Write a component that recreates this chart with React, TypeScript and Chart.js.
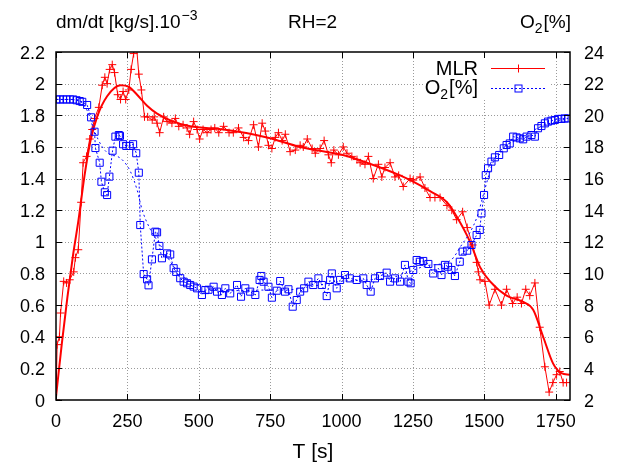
import React, { useEffect, useRef } from "react";
import { Chart, registerables } from "chart.js";

Chart.register(...registerables);

// ---------- data ----------
const mlrT = [0, 4, 12, 16, 27, 37, 48, 62, 68, 78, 88, 95, 107, 118, 127, 135, 150, 162, 171, 179, 188, 197, 205, 216, 226, 235, 244, 255, 263, 272, 280, 290, 299, 310, 321, 337, 344, 354, 363, 377, 389, 406, 418, 430, 445, 459, 468, 482, 494, 503, 515, 529, 543, 556, 570, 587, 606, 621, 639, 657, 674, 692, 709, 722, 733, 744, 756, 768, 779, 792, 803, 820, 838, 855, 866, 880, 897, 908, 925, 939, 954, 964, 973, 989, 1006, 1019, 1036, 1054, 1065, 1082, 1094, 1111, 1129, 1141, 1152, 1170, 1187, 1200, 1216, 1240, 1251, 1275, 1292, 1310, 1327, 1345, 1369, 1386, 1403, 1424, 1440, 1459, 1473, 1479, 1485, 1502, 1517, 1537, 1560, 1578, 1599, 1615, 1630, 1645, 1659, 1677, 1694, 1712, 1727, 1740, 1753, 1764, 1776, 1788];
const mlrV = [0.0, 0.35, 0.40, 0.55, 0.75, 0.74, 0.76, 0.81, 0.90, 0.95, 1.25, 1.50, 1.54, 1.65, 1.71, 1.78, 1.85, 1.99, 2.04, 2.00, 2.09, 2.12, 2.07, 1.93, 1.90, 1.95, 1.90, 1.96, 2.09, 2.19, 2.28, 2.06, 1.96, 1.79, 1.79, 1.77, 1.79, 1.75, 1.69, 1.79, 1.76, 1.75, 1.78, 1.73, 1.74, 1.72, 1.68, 1.76, 1.71, 1.65, 1.71, 1.69, 1.71, 1.72, 1.69, 1.73, 1.69, 1.69, 1.72, 1.66, 1.64, 1.74, 1.60, 1.75, 1.70, 1.61, 1.59, 1.66, 1.69, 1.64, 1.68, 1.57, 1.58, 1.61, 1.60, 1.65, 1.59, 1.56, 1.59, 1.64, 1.55, 1.50, 1.58, 1.55, 1.60, 1.56, 1.54, 1.52, 1.50, 1.49, 1.54, 1.40, 1.49, 1.41, 1.47, 1.50, 1.41, 1.42, 1.35, 1.40, 1.39, 1.41, 1.34, 1.28, 1.28, 1.28, 1.23, 1.20, 1.14, 1.19, 1.09, 0.98, 0.87, 0.81, 0.76, 0.75, 0.60, 0.70, 0.60, 0.70, 0.61, 0.65, 0.61, 0.70, 0.66, 0.74, 0.46, 0.21, 0.05, 0.11, 0.16, 0.18, 0.11, 0.11];

const mlrFitT = [0, 20, 40, 60, 79, 100, 121, 144, 179, 226, 255, 284, 319, 354, 411, 470, 587, 739, 855, 1001, 1089, 1205, 1251, 1310, 1369, 1403, 1450, 1485, 1520, 1578, 1636, 1671, 1706, 1741, 1770, 1799];
const mlrFitV = [0.02, 0.35, 0.65, 0.92, 1.14, 1.42, 1.64, 1.79, 1.92, 1.99, 1.98, 1.93, 1.86, 1.81, 1.76, 1.73, 1.71, 1.66, 1.60, 1.55, 1.50, 1.42, 1.38, 1.32, 1.25, 1.16, 1.00, 0.84, 0.75, 0.66, 0.62, 0.57, 0.40, 0.23, 0.17, 0.16];

const o2T = [2, 14, 25, 37, 49, 60, 72, 83, 92, 109, 123, 135, 138, 153, 159, 171, 179, 187, 198, 208, 220, 224, 235, 246, 258, 270, 281, 290, 295, 307, 319, 324, 336, 348, 354, 362, 371, 389, 400, 412, 421, 435, 447, 459, 470, 482, 494, 511, 523, 534, 552, 564, 581, 593, 610, 634, 648, 663, 680, 698, 713, 719, 727, 744, 756, 773, 785, 802, 814, 829, 843, 855, 869, 884, 901, 919, 931, 948, 960, 966, 983, 995, 1012, 1029, 1053, 1076, 1088, 1102, 1117, 1135, 1158, 1170, 1187, 1205, 1222, 1234, 1242, 1251, 1263, 1274, 1286, 1304, 1321, 1339, 1350, 1362, 1373, 1385, 1397, 1414, 1424, 1440, 1455, 1473, 1484, 1490, 1499, 1505, 1513, 1525, 1537, 1552, 1568, 1578, 1589, 1601, 1613, 1624, 1636, 1648, 1665, 1677, 1688, 1700, 1712, 1723, 1735, 1747, 1759, 1770, 1781, 1793];
const o2V = [21.0, 21.0, 21.0, 21.0, 21.0, 21.0, 20.95, 20.9, 20.85, 20.65, 19.87, 18.96, 17.93, 17.0, 15.8, 15.13, 14.96, 16.12, 17.76, 18.65, 18.75, 18.7, 18.17, 18.06, 18.06, 18.17, 17.6, 16.37, 13.06, 9.96, 9.63, 9.25, 10.89, 12.64, 12.6, 11.74, 10.96, 11.27, 11.2, 10.33, 10.1, 9.7, 9.48, 9.38, 9.27, 9.17, 9.06, 8.64, 8.95, 8.97, 9.16, 8.85, 8.64, 9.06, 8.74, 9.27, 8.53, 9.06, 8.85, 8.64, 9.59, 9.84, 9.48, 9.16, 8.47, 8.91, 9.52, 8.85, 9.0, 7.9, 8.32, 8.85, 9.06, 9.48, 9.27, 9.69, 9.27, 8.57, 9.59, 10.0, 9.06, 9.59, 9.9, 9.69, 9.59, 9.69, 9.27, 8.85, 9.69, 9.84, 10.05, 9.48, 9.69, 9.48, 10.54, 9.48, 9.38, 10.22, 10.85, 10.74, 10.79, 10.6, 10.0, 10.33, 9.9, 10.54, 10.43, 10.22, 9.84, 10.74, 11.38, 11.44, 11.8, 12.43, 12.75, 13.8, 14.96, 16.22, 16.65, 17.07, 17.34, 17.49, 17.91, 18.12, 18.22, 18.65, 18.6, 18.54, 18.48, 18.65, 18.75, 18.65, 19.18, 19.32, 19.49, 19.6, 19.66, 19.7, 19.77, 19.77, 19.8, 19.8];

const o2FitT = [0, 70, 109, 133, 162, 191, 215, 238, 261, 284, 302, 330, 365, 410, 460, 530, 600, 700, 800, 900, 1000, 1100, 1200, 1250, 1300, 1380, 1424, 1450, 1475, 1500, 1530, 1570, 1620, 1700, 1793];
const o2FitV = [21.0, 21.0, 20.3, 19.07, 18.0, 17.5, 17.4, 17.07, 16.43, 15.28, 14.0, 12.8, 11.8, 10.5, 9.6, 9.1, 8.9, 8.95, 8.95, 9.2, 9.5, 9.6, 9.85, 10.2, 10.5, 10.8, 11.9, 12.6, 13.6, 15.2, 17.0, 18.0, 18.5, 19.3, 19.8];

const xTicks = [0, 250, 500, 750, 1000, 1250, 1500, 1750];
const yTicks = [0, 0.2, 0.4, 0.6, 0.8, 1, 1.2, 1.4, 1.6, 1.8, 2, 2.2];
const y2Ticks = [2, 4, 6, 8, 10, 12, 14, 16, 18, 20, 22, 24];
const yTickLabels = ["0", "0.2", "0.4", "0.6", "0.8", "1", "1.2", "1.4", "1.6", "1.8", "2", "2.2"];

const RED = "#ff0000";
const BLUE = "#0000ff";
const FONT = "'Liberation Sans', Arial, Helvetica, sans-serif";

function pts(t: number[], v: number[]) {
  return t.map((x, i) => ({ x, y: v[i] }));
}

const gnuplotPlugin = {
  id: "gnuplotLook",
  beforeDatasetsDraw(chart: any) {
    const { ctx, chartArea: a, scales } = chart;
    ctx.save();
    ctx.strokeStyle = "#9a9a9a";
    ctx.lineWidth = 1;
    ctx.setLineDash([1, 2]);
    for (const t of xTicks) {
      if (t === 0) continue;
      const px = Math.round(scales.x.getPixelForValue(t)) + 0.5;
      ctx.beginPath();
      ctx.moveTo(px, a.top);
      ctx.lineTo(px, a.bottom);
      ctx.stroke();
    }
    for (const t of yTicks) {
      if (t === 0 || t === 2.2) continue;
      const py = Math.round(scales.y.getPixelForValue(t)) + 0.5;
      ctx.beginPath();
      ctx.moveTo(a.left, py);
      ctx.lineTo(a.right, py);
      ctx.stroke();
    }
    ctx.restore();
  },
  afterDatasetsDraw(chart: any) {
    const { ctx, chartArea: a, scales } = chart;
    ctx.save();
    // legend box (opaque)
    ctx.fillStyle = "#ffffff";
    ctx.fillRect(423, a.top + 1, 126, 45);

    // border
    ctx.setLineDash([]);
    ctx.strokeStyle = "#000";
    ctx.lineWidth = 1.5;
    ctx.strokeRect(a.left, a.top, a.right - a.left, a.bottom - a.top);

    // inward ticks
    ctx.lineWidth = 1;
    const tl = 6;
    for (const t of xTicks) {
      const px = Math.round(scales.x.getPixelForValue(t)) + 0.5;
      ctx.beginPath();
      ctx.moveTo(px, a.bottom);
      ctx.lineTo(px, a.bottom - tl);
      ctx.moveTo(px, a.top);
      ctx.lineTo(px, a.top + tl);
      ctx.stroke();
    }
    for (const t of yTicks) {
      const py = Math.round(scales.y.getPixelForValue(t)) + 0.5;
      ctx.beginPath();
      ctx.moveTo(a.left, py);
      ctx.lineTo(a.left + tl, py);
      ctx.stroke();
    }
    for (const t of y2Ticks) {
      const py = Math.round(scales.y2.getPixelForValue(t)) + 0.5;
      ctx.beginPath();
      ctx.moveTo(a.right, py);
      ctx.lineTo(a.right - tl, py);
      ctx.stroke();
    }

    // tick labels
    ctx.fillStyle = "#000";
    ctx.font = `18px ${FONT}`;
    ctx.textBaseline = "alphabetic";
    ctx.textAlign = "center";
    for (const t of xTicks) {
      ctx.fillText(String(t), scales.x.getPixelForValue(t), a.bottom + 27);
    }
    ctx.textAlign = "right";
    yTicks.forEach((t, i) => {
      ctx.fillText(yTickLabels[i], a.left - 11, scales.y.getPixelForValue(t) + 6.5);
    });
    ctx.textAlign = "left";
    for (const t of y2Ticks) {
      ctx.fillText(String(t), a.right + 14, scales.y2.getPixelForValue(t) + 6.5);
    }

    // axis title
    ctx.font = `21px ${FONT}`;
    ctx.textAlign = "center";
    ctx.fillText("T [s]", (a.left + a.right) / 2, 458);

    // top labels
    ctx.font = `19px ${FONT}`;
    ctx.textAlign = "left";
    const base = 28;
    const s1 = "dm/dt [kg/s].10";
    ctx.fillText(s1, 56, base);
    const w1 = ctx.measureText(s1).width;
    ctx.font = `14px ${FONT}`;
    ctx.fillText("\u22123", 56 + w1 + 1, base - 8);
    ctx.font = `19px ${FONT}`;
    ctx.fillText("RH=2", 288, base);

    const drawO2 = (rightX: number, baseline: number, size: number) => {
      ctx.font = `${size}px ${FONT}`;
      const wO = ctx.measureText("O").width;
      const wB = ctx.measureText("[%]").width;
      ctx.font = `${Math.round(size * 0.72)}px ${FONT}`;
      const w2 = ctx.measureText("2").width;
      const start = rightX - (wO + w2 + wB + 1);
      ctx.font = `${size}px ${FONT}`;
      ctx.textAlign = "left";
      ctx.fillText("O", start, baseline);
      ctx.font = `${Math.round(size * 0.72)}px ${FONT}`;
      ctx.fillText("2", start + wO, baseline + size * 0.25);
      ctx.font = `${size}px ${FONT}`;
      ctx.fillText("[%]", start + wO + w2 + 1, baseline);
    };
    drawO2(571, base, 19);

    // legend
    ctx.font = `20px ${FONT}`;
    ctx.textAlign = "right";
    ctx.fillText("MLR", 478, 75);
    drawO2(478, 94, 20);

    ctx.lineWidth = 1;
    ctx.strokeStyle = RED;
    ctx.beginPath();
    ctx.moveTo(491, 68.5);
    ctx.lineTo(545, 68.5);
    ctx.moveTo(518.5, 64.5);
    ctx.lineTo(518.5, 72.5);
    ctx.stroke();

    ctx.strokeStyle = BLUE;
    ctx.setLineDash([2, 2]);
    ctx.beginPath();
    ctx.moveTo(491, 88.5);
    ctx.lineTo(545, 88.5);
    ctx.stroke();
    ctx.setLineDash([]);
    ctx.strokeRect(515, 85, 7, 7);
    ctx.restore();
  },
};

export default function App() {
  const ref = useRef<HTMLCanvasElement | null>(null);
  useEffect(() => {
    if (!ref.current) return;
    const chart = new Chart(ref.current, {
      type: "line",
      data: {
        datasets: [
          {
            label: "MLR",
            data: pts(mlrT, mlrV),
            yAxisID: "y",
            borderColor: RED,
            borderWidth: 1,
            pointStyle: "cross",
            pointRadius: 4,
            pointBorderColor: RED,
            pointBorderWidth: 1,
            pointBackgroundColor: RED,
            tension: 0,
            order: 4,
          },
          {
            label: "MLR fit",
            data: pts(mlrFitT, mlrFitV),
            yAxisID: "y",
            borderColor: RED,
            borderWidth: 2,
            pointRadius: 0,
            cubicInterpolationMode: "monotone",
            order: 3,
          },
          {
            label: "O2",
            data: pts(o2T, o2V),
            yAxisID: "y2",
            borderColor: BLUE,
            borderWidth: 1,
            borderDash: [2, 2],
            pointStyle: "rect",
            pointRadius: 5,
            pointBorderColor: BLUE,
            pointBorderWidth: 1,
            pointBackgroundColor: "rgba(0,0,0,0)",
            tension: 0,
            order: 2,
          },
          {
            label: "O2 fit",
            data: pts(o2FitT, o2FitV),
            yAxisID: "y2",
            borderColor: BLUE,
            borderWidth: 1,
            borderDash: [2, 3],
            pointRadius: 0,
            cubicInterpolationMode: "monotone",
            order: 1,
          },
        ],
      },
      options: {
        animation: false,
        responsive: false,
        devicePixelRatio: 1,
        parsing: true,
        layout: { padding: { top: 52, left: 0, right: 0, bottom: 0 } },
        plugins: { legend: { display: false }, tooltip: { enabled: false } },
        scales: {
          x: {
            type: "linear",
            min: 0,
            max: 1800,
            grid: { display: false },
            border: { display: false },
            ticks: { display: false },
            afterFit: (s: any) => {
              s.height = 70;
            },
          },
          y: {
            type: "linear",
            position: "left",
            min: 0,
            max: 2.2,
            grid: { display: false },
            border: { display: false },
            ticks: { display: false },
            afterFit: (s: any) => {
              s.width = 56;
            },
          },
          y2: {
            type: "linear",
            position: "right",
            min: 2,
            max: 24,
            grid: { display: false },
            border: { display: false },
            ticks: { display: false },
            afterFit: (s: any) => {
              s.width = 54;
            },
          },
        },
      } as any,
      plugins: [gnuplotPlugin],
    });
    return () => chart.destroy();
  }, []);
  return (
    <div style={{ position: "absolute", left: 0, top: 0, width: 624, height: 470, background: "#fff" }}>
      <canvas ref={ref} width={624} height={470} style={{ width: 624, height: 470, display: "block" }} />
    </div>
  );
}
